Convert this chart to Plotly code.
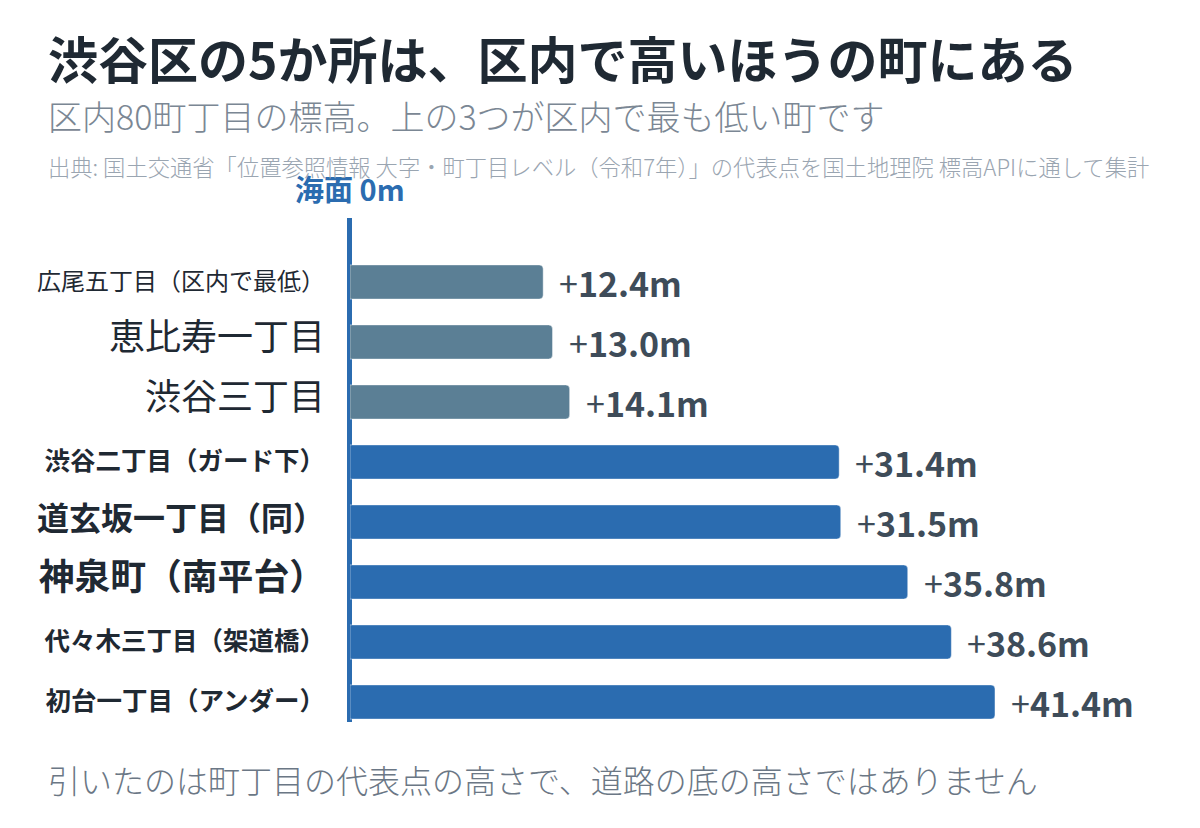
import plotly.graph_objects as go

# ---- data ----
towns = [
    "広尾五丁目（区内で最低）",
    "恵比寿一丁目",
    "渋谷三丁目",
    "渋谷二丁目（ガード下）",
    "道玄坂一丁目（同）",
    "神泉町（南平台）",
    "代々木三丁目（架道橋）",
    "初台一丁目（アンダー）",
]
elevation_m = [12.4, 13.0, 14.1, 31.4, 31.5, 35.8, 38.6, 41.4]
is_lowest3 = [True, True, True, False, False, False, False, False]

# ---- styles ----
label_sizes = [24, 36, 36, 25.5, 32, 35.8, 25.5, 25.5]
label_bold = [False, False, False, True, True, True, True, True]
COL_LOW = "#5b7f95"
COL_HIGH = "#2b6cb0"
FONT = "Noto Sans CJK JP"

# page offset (browser body margin) and plot box in figure pixels
OFF = 8
W, H = 1200, 828
ML, MR, MT, MB = 342, 58, 244, 104
PW, PH = W - ML - MR, H - MT - MB

def xp(sx):  # screen px -> paper x
    return (sx - OFF - ML) / PW

def yp(sy):  # screen px -> paper y
    return (H - MB - (sy - OFF)) / PH

ticktext = []
for name, sz, b in zip(towns, label_sizes, label_bold):
    inner = f"<b>{name}</b>" if b else name
    ticktext.append(f"<span style='font-size:{sz}px'>{inner}</span>")

colors = [COL_LOW if low else COL_HIGH for low in is_lowest3]

fig = go.Figure()
fig.add_trace(go.Bar(
    x=elevation_m, y=towns, orientation="h",
    marker=dict(color=colors, cornerradius=4,
                line=dict(width=1, color="rgba(255,255,255,0.45)")),
    width=0.57, hoverinfo="skip",
))

for v, t in zip(elevation_m, towns):
    fig.add_annotation(
        x=v, y=t, xref="x", yref="y", xanchor="left", yanchor="middle",
        xshift=14, showarrow=False,
        text=f"+<b>{v:.1f}m</b>",
        font=dict(family=FONT, size=34, color="#3e4c59"),
    )

# zero (sea level) line
fig.add_shape(type="line", xref="paper", yref="paper", x0=xp(349.5), x1=xp(349.5),
              y0=yp(722), y1=yp(218), layer="below",
              line=dict(color=COL_HIGH, width=5))
fig.add_annotation(x=0, xref="x", y=yp(188), yref="paper", text="<b>海面 0m</b>",
                   showarrow=False, xanchor="center", yanchor="middle",
                   font=dict(family=FONT, size=29, color=COL_HIGH))

def ptext(txt, sy, size, color, weight=400):
    fig.add_annotation(x=xp(46), y=yp(sy), xref="paper", yref="paper", text=txt,
                       showarrow=False, xanchor="left", yanchor="middle",
                       font=dict(family=FONT, size=size, color=color, weight=weight))

ptext("<b>渋谷区の5か所は、区内で高いほうの町にある</b>", 57, 50, "#1f2933")
ptext("区内80町丁目の標高。上の3つが区内で最も低い町です", 116, 34, "#7b8794", 300)
ptext("出典: 国土交通省「位置参照情報 大字・町丁目レベル（令和7年）」の代表点を国土地理院 標高APIに通して集計",
      166, 22.3, "#9aa5b1", 300)
ptext("引いたのは町丁目の代表点の高さで、道路の底の高さではありません", 779, 32, "#6b7785", 300)

fig.update_layout(
    width=W, height=H,
    margin=dict(l=ML, r=MR, t=MT, b=MB),
    paper_bgcolor="white", plot_bgcolor="white",
    showlegend=False,
    font=dict(family=FONT, color="#1f2933"),
    xaxis=dict(range=[0, 51.35], visible=False, fixedrange=True),
    yaxis=dict(autorange="reversed", tickvals=towns, ticktext=ticktext,
               showgrid=False, zeroline=False, showline=False, ticks="",
               ticklabelstandoff=24,
               tickfont=dict(family=FONT, size=24, color="#1f2933")),
)

fig.write_html("out.html")
